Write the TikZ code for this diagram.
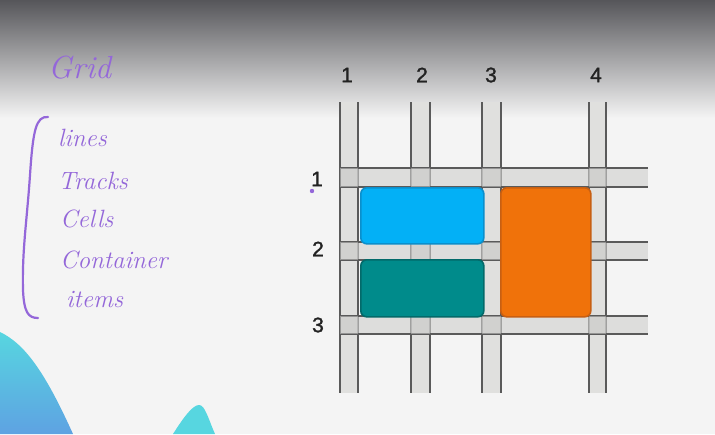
\documentclass[tikz,border=0pt]{standalone}
\usepackage{fontspec}
\newfontfamily\numfont[FakeBold=1.4]{Liberation Sans}
\definecolor{bg}{HTML}{F4F4F4}
\definecolor{topdark}{HTML}{56565A}
\definecolor{pen}{HTML}{9467D9}
\definecolor{bandfill}{HTML}{E0E0DE}
\definecolor{bandfillh}{HTML}{CFCFCD}
\definecolor{bandline}{HTML}{5A5A5A}
\definecolor{numcol}{HTML}{222222}
\definecolor{bluefill}{HTML}{03B0F6}
\definecolor{blueline}{HTML}{0A8FCC}
\definecolor{tealfill}{HTML}{008B8B}
\definecolor{tealline}{HTML}{036A6A}
\definecolor{orangefill}{HTML}{F0720A}
\definecolor{orangeline}{HTML}{C85F12}
\definecolor{waveA}{HTML}{57D6E0}
\definecolor{waveB}{HTML}{5EA2E2}
\begin{document}
\begin{tikzpicture}[x=1pt,y=-1pt,
  numlabel/.style={font=\numfont\fontsize{21}{21}\selectfont, text=numcol, inner sep=0pt},
  hand/.style={font=\itshape\fontsize{25}{25}\selectfont, text=pen, inner sep=0pt, anchor=base west},
  vband/.style={fill=bandfill, draw=none},
  hband/.style={fill=bandfillh, fill opacity=0.6, draw=none},
  bline/.style={draw=bandline, line width=1.6pt},
  itembox/.style={rounded corners=6pt, line width=1.6pt, inner sep=0pt, anchor=north west}
]
\useasboundingbox (0,0) rectangle (715,434);
\fill[bg] (0,0) rectangle (715,434);
\shade[top color=topdark, bottom color=bg] (0,0) rectangle (715,118);

% bottom waves
\shade[top color=waveA, bottom color=waveB] (0,332) .. controls (25,344) and (45,372) .. (73,434) -- (0,434) -- cycle;
\fill[waveA] (173,434) .. controls (182,420) and (192,405) .. (199,405) .. controls (205,405) and (208,418) .. (215,434) -- cycle;

% handwriting
\node[hand, font=\itshape\fontsize{32}{32}\selectfont] (grid) at (48,78) {Grid};
\node[hand] (lines) at (58,146) {lines};
\node[hand] (tracks) at (58,189) {Tracks};
\node[hand] (cells) at (60,227) {Cells};
\node[hand] (container) at (60,268) {Container};
\node[hand] (items) at (66,307) {items};
\draw[pen, line width=2.2pt, line cap=round]
  (48,117) .. controls (36,116) and (33,130) .. (30,175)
  .. controls (27,220) and (22,250) .. (23,290)
  .. controls (24,312) and (28,318) .. (38,318);
\fill[pen] (312,191) circle (2.2);

% vertical bands
\foreach \a/\b in {340/358, 411/430, 482/501, 589/606} {
  \path[vband] (\a,102) rectangle (\b,393);
  \draw[bline] (\a,102) -- (\a,393);
  \draw[bline] (\b,102) -- (\b,393);
}
% horizontal bands
\foreach \a/\b in {168/187, 242/260, 316/334} {
  \path[hband] (341,\a) rectangle (648,\b);
  \draw[bline] (341,\a) -- (648,\a);
  \draw[bline] (341,\b) -- (648,\b);
}
% intersections: lighten crossing lines
\foreach \a/\b in {340/358, 411/430, 482/501, 589/606} {
  \foreach \c/\d in {168/187, 242/260, 316/334} {
    \fill[bandfillh, fill opacity=0.5] (\a,\c) rectangle (\b,\d);
  }
}

% items
\node[itembox, fill=bluefill, draw=blueline, minimum width=123pt, minimum height=56pt] (blue) at (360,187) {};
\node[itembox, fill=tealfill, draw=tealline, minimum width=123pt, minimum height=57pt] (teal) at (360,259) {};
\node[itembox, fill=orangefill, draw=orangeline, minimum width=90pt, minimum height=129pt] (orange) at (500,187) {};

% labels
\node[numlabel] (c1) at (347,75) {1};
\node[numlabel] (c2) at (422,75) {2};
\node[numlabel] (c3) at (491,75) {3};
\node[numlabel] (c4) at (596,75) {4};
\node[numlabel] (r1) at (317,179) {1};
\node[numlabel] (r2) at (318,249) {2};
\node[numlabel] (r3) at (318,325) {3};
\end{tikzpicture}
\end{document}
